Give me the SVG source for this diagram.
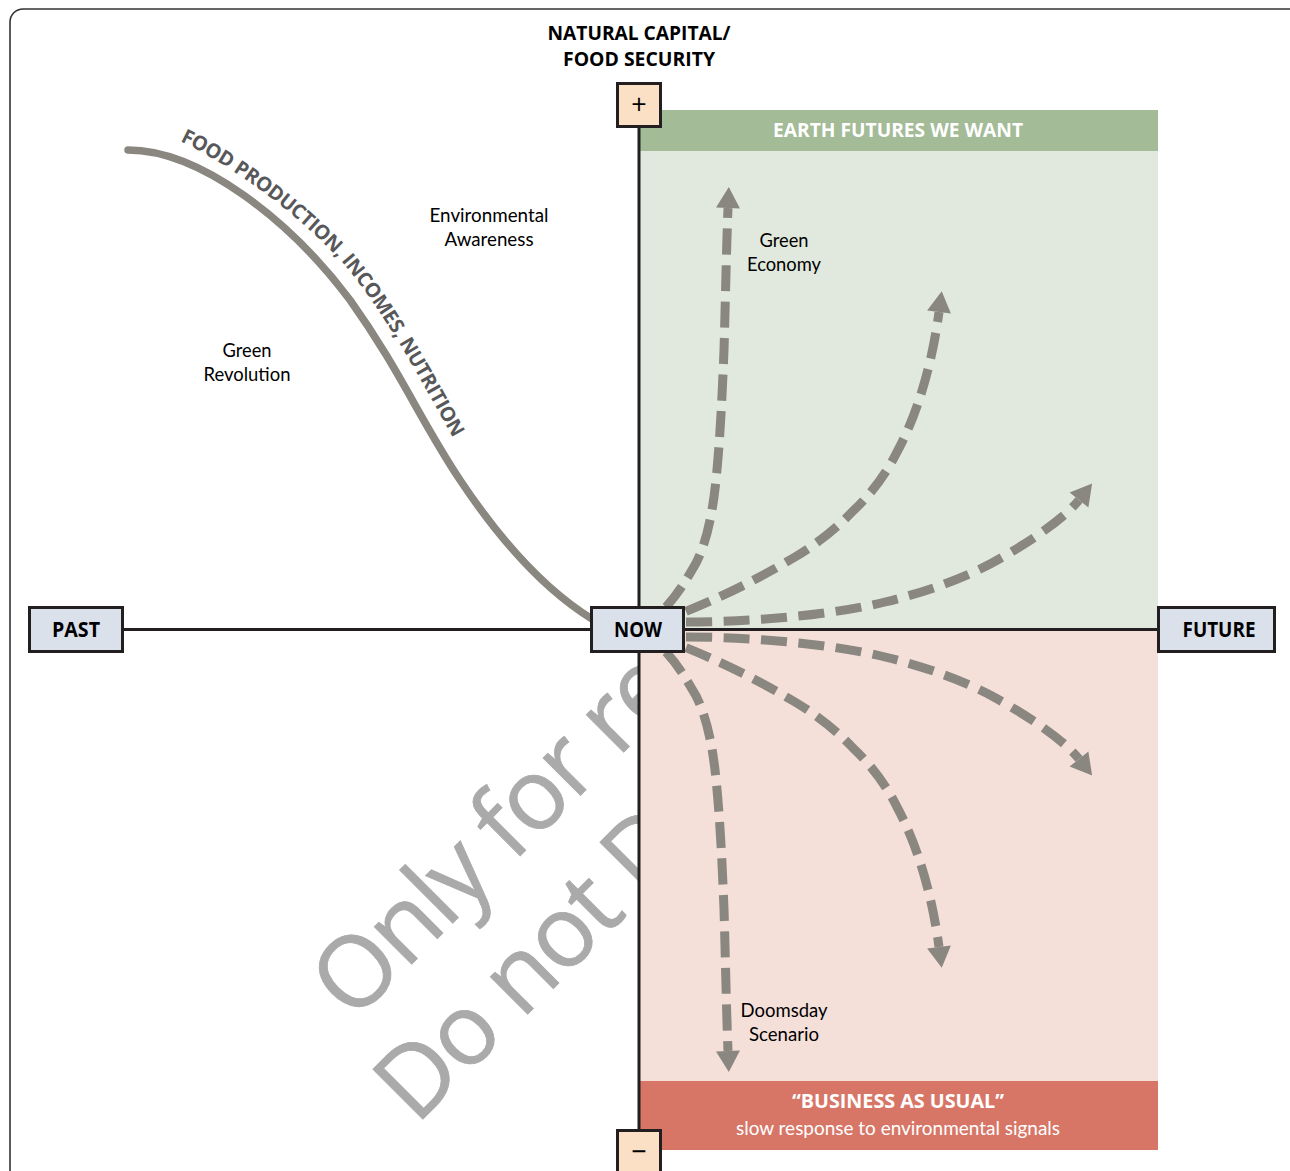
<svg xmlns="http://www.w3.org/2000/svg" width="1290" height="1171" viewBox="0 0 1290 1171">
<style>
text{font-family:"Open Sans","Noto Sans",sans-serif}
.lab{font-family:Lato,"Open Sans",sans-serif;font-size:19.5px;fill:#000;text-anchor:middle}
.box{stroke:#231f20;stroke-width:3}
.nb{font-size:21px;font-weight:700;fill:#000;text-anchor:middle}
.axis{stroke:#231f20;stroke-width:3;fill:none}
.dash{fill:none;stroke:#8a8780;stroke-width:9;stroke-dasharray:26 10.5;stroke-dashoffset:16;marker-start:url(#ah)}
.d2{stroke-dasharray:26 11}
.d3{stroke-dasharray:26 11.5}
</style>
<defs>
<marker id="ah" markerUnits="userSpaceOnUse" markerWidth="24" markerHeight="26" refX="21" refY="13" orient="auto"><path d="M21,1 L21,25 L0,13 Z" fill="#8a8780"/></marker>
<path id="tp" d="M180,141 C236,168 297,214 342,262 C387,315 423,385 460,450"/>
</defs>
<rect x="10" y="9" width="1300" height="1190" rx="13" fill="#fff" stroke="#333" stroke-width="1.6"/>
<g id="watermark" fill="#aaa" stroke="#aaa" stroke-width="0.8" font-size="99" letter-spacing="-2.5">
<text transform="translate(353,1023) rotate(-45)">Only for re</text>
<text transform="translate(416,1126) rotate(-45)">Do not D</text>
</g>
<g id="zones">
<rect x="639" y="151" width="519" height="478" fill="#e1e9de"/>
<rect x="639" y="629" width="519" height="452" fill="#f5dfd9"/>
<g id="earth-futures"><rect x="639" y="110" width="519" height="41" fill="#a3bb97"/>
<text x="898" y="137" font-size="20" font-weight="700" fill="#fff" text-anchor="middle" textLength="250" lengthAdjust="spacingAndGlyphs">EARTH FUTURES WE WANT</text></g>
<g id="business-as-usual"><rect x="639" y="1081" width="519" height="69" fill="#d77666"/>
<text x="898" y="1108" font-size="20" font-weight="700" fill="#fff" text-anchor="middle" textLength="212" lengthAdjust="spacingAndGlyphs">“BUSINESS AS USUAL”</text>
<text class="lab" style="fill:#fff" x="898" y="1135" textLength="324" lengthAdjust="spacingAndGlyphs">slow response to environmental signals</text></g>
</g>
<g id="connectors">
<path class="axis" d="M123,629.5 H1158"/>
<path class="axis" d="M639,127 V1130"/>
<path d="M128,150 C200,150 290,220 350,300 C400,370 420,420 460,480 C500,540 545,590 592,619" fill="none" stroke="#8a8780" stroke-width="7.5" stroke-linecap="round"/>
<path class="dash" d="M728,208 C726,260 725,320 724,350 C722,400 720,440 716,480 C712,520 704,552 692,570 C684,584 676,596 665,608"/>
<path class="dash d2" d="M939,312 C932,365 917,415 897,452 C885,476 870,495 853,511 C835,530 815,545 795,557 C760,578 720,598 682,613"/>
<path class="dash d3" d="M1079,500 C1063,520 1025,545 992,563 C960,580 922,593 885,602 C835,614 760,622 684,622"/>
<path class="dash" d="M728,1051 C726,999 725,939 724,909 C722,859 720,819 716,779 C712,739 704,707 692,689 C684,675 676,663 665,651"/>
<path class="dash d2" d="M939,947 C932,894 917,844 897,807 C885,783 870,764 853,748 C835,729 815,714 795,702 C760,681 720,661 682,646"/>
<path class="dash d3" d="M1079,759 C1063,739 1025,714 992,696 C960,679 922,666 885,657 C835,645 760,637 684,637"/>
</g>
<text font-size="20" font-weight="700" fill="#58585a" letter-spacing="-0.4"><textPath href="#tp">FOOD PRODUCTION, INCOMES, NUTRITION</textPath></text>
<g id="past"><rect class="box" x="29.5" y="607.5" width="93" height="44" fill="#dbe1ea"/><text class="nb" x="76" y="637" textLength="48" lengthAdjust="spacingAndGlyphs">PAST</text></g>
<g id="now"><rect class="box" x="591.5" y="607.5" width="92" height="44" fill="#dbe1ea"/><text class="nb" x="638" y="637" textLength="48" lengthAdjust="spacingAndGlyphs">NOW</text></g>
<g id="future"><rect class="box" x="1158.5" y="607.5" width="116" height="44" fill="#dbe1ea"/><text class="nb" x="1219" y="637" textLength="73" lengthAdjust="spacingAndGlyphs">FUTURE</text></g>
<g id="plus"><rect class="box" x="617.5" y="83.5" width="43" height="43" fill="#fce0c5"/><text x="639" y="114" font-size="27" fill="#000" text-anchor="middle">+</text></g>
<g id="minus"><rect class="box" x="617.5" y="1130.5" width="43" height="50" fill="#fce0c5"/><text x="639" y="1161" font-size="27" fill="#000" text-anchor="middle">−</text></g>
<g id="natural-capital">
<text x="639" y="40" class="nb" style="font-size:20px" textLength="183" lengthAdjust="spacingAndGlyphs">NATURAL CAPITAL/</text>
<text x="639" y="66" class="nb" style="font-size:20px" textLength="152" lengthAdjust="spacingAndGlyphs">FOOD SECURITY</text></g>
<g id="green-revolution"><text class="lab" x="247" y="357" textLength="49" lengthAdjust="spacingAndGlyphs">Green</text><text class="lab" x="247" y="381" textLength="87" lengthAdjust="spacingAndGlyphs">Revolution</text></g>
<g id="env-awareness"><text class="lab" x="489" y="222" textLength="119" lengthAdjust="spacingAndGlyphs">Environmental</text><text class="lab" x="489" y="246" textLength="89" lengthAdjust="spacingAndGlyphs">Awareness</text></g>
<g id="green-economy"><text class="lab" x="784" y="247" textLength="49" lengthAdjust="spacingAndGlyphs">Green</text><text class="lab" x="784" y="271" textLength="74" lengthAdjust="spacingAndGlyphs">Economy</text></g>
<g id="doomsday"><text class="lab" x="784" y="1017" textLength="87" lengthAdjust="spacingAndGlyphs">Doomsday</text><text class="lab" x="784" y="1041" textLength="70" lengthAdjust="spacingAndGlyphs">Scenario</text></g>
</svg>
